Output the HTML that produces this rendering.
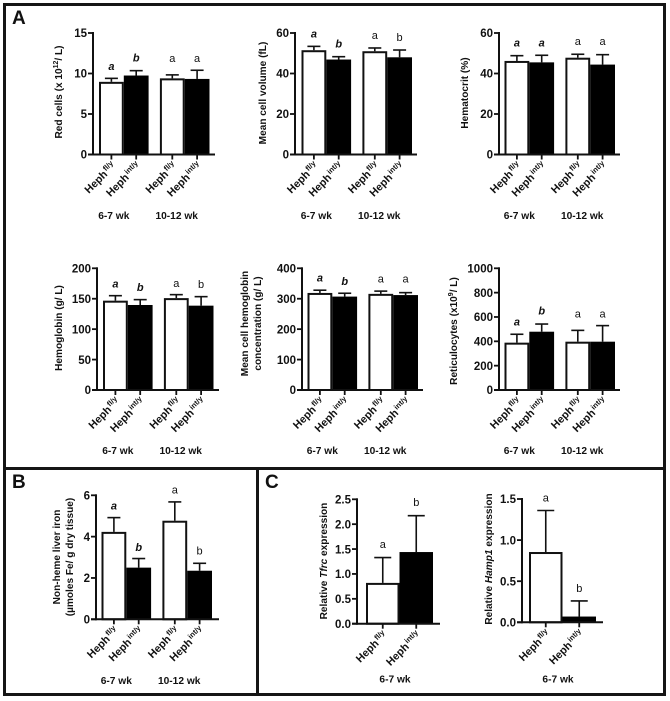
<!DOCTYPE html>
<html lang="en">
<head>
<meta charset="utf-8">
<title>Hephaestin knockout hematology bar charts</title>
<style>
html,body{margin:0;padding:0;background:#fff;}
#figure{display:block;width:670px;height:701px;font-family:"Liberation Sans",sans-serif;filter:blur(0.3px);}
text{font-family:"Liberation Sans",sans-serif;fill:#111;}
</style>
</head>
<body>
<svg id="figure" xmlns="http://www.w3.org/2000/svg" width="670" height="701" viewBox="0 0 670 701">
  <rect x="4.5" y="4.5" width="660" height="464" fill="#fff" stroke="#151515" stroke-width="3"/>
  <rect x="4.5" y="468.5" width="253" height="226" fill="#fff" stroke="#151515" stroke-width="3"/>
  <rect x="257.5" y="468.5" width="407" height="226" fill="#fff" stroke="#151515" stroke-width="3"/>
  <text x="12" y="24" font-size="19" font-weight="bold">A</text>
  <text x="12" y="488" font-size="19" font-weight="bold">B</text>
  <text x="265" y="488" font-size="19" font-weight="bold">C</text>
  <g id="charts"></g>
</svg>
<script>
// ---- categories ----
const fourGenotypes = ["fl/y", "int/y", "fl/y", "int/y"];
const twoGenotypes = ["fl/y", "int/y"];
const fourBarColors = ["white", "black", "white", "black"];
const twoBarColors = ["white", "black"];

// ---- Red cells ----
const redCellsTicks = ["0", "5", "10", "15"];
const redCellsMeans = [8.97, 9.75, 9.4, 9.33];
const redCellsErrorTops = [9.4, 10.35, 9.83, 10.4];
const redCellsLetters = ["a", "b", "a", "a"];
const redCellsLetterLevels = [10.9, 12, 11.9, 11.9];

// ---- Mean cell volume ----
const volumeTicks = ["0", "20", "40", "60"];
const volumeMeans = [51.5, 46.9, 51, 48];
const volumeErrorTops = [53.4, 48.3, 52.6, 51.6];
const volumeLetters = ["a", "b", "a", "b"];
const volumeLetterLevels = [59.7, 54.9, 59, 58];

// ---- Hematocrit ----
const hematocritTicks = ["0", "20", "40", "60"];
const hematocritMeans = [46.2, 45.5, 47.8, 44.4];
const hematocritErrorTops = [48.8, 49, 49.5, 49.3];
const hematocritLetters = ["a", "a", "a", "a"];
const hematocritLetterLevels = [55.2, 55.2, 56, 56];

// ---- Hemoglobin ----
const hemoglobinTicks = ["0", "50", "100", "150", "200"];
const hemoglobinMeans = [146.8, 139.7, 151, 138.6];
const hemoglobinErrorTops = [155, 148.5, 156.7, 153.4];
const hemoglobinLetters = ["a", "b", "a", "b"];
const hemoglobinLetterLevels = [175, 169, 176, 174];

// ---- Mean cell hemoglobin concentration ----
const concentrationTicks = ["0", "100", "200", "300", "400"];
const concentrationMeans = [319, 307, 316, 312];
const concentrationErrorTops = [328, 318, 325, 320];
const concentrationLetters = ["a", "b", "a", "a"];
const concentrationLetterLevels = [369, 359, 366, 366];

// ---- Reticulocytes ----
const reticulocyteTicks = ["0", "200", "400", "600", "800", "1000"];
const reticulocyteMeans = [389, 479, 397, 397];
const reticulocyteErrorTops = [458, 542, 490, 529];
const reticulocyteLetters = ["a", "b", "a", "a"];
const reticulocyteLetterLevels = [562, 652, 630, 630];

// ---- Liver iron ----
const liverIronTicks = ["0", "2", "4", "6"];
const liverIronMeans = [4.23, 2.5, 4.77, 2.35];
const liverIronErrorTops = [4.92, 2.94, 5.68, 2.71];
const liverIronLetters = ["a", "b", "a", "b"];
const liverIronLetterLevels = [5.5, 3.5, 6.27, 3.34];

// ---- Tfrc ----
const tfrcTicks = ["0.0", "0.5", "1.0", "1.5", "2.0", "2.5"];
const tfrcMeans = [0.82, 1.44];
const tfrcErrorTops = [1.33, 2.17];
const tfrcLetters = ["a", "b"];
const tfrcLetterLevels = [1.6, 2.45];

// ---- Hamp1 ----
const hampTicks = ["0.0", "0.5", "1.0", "1.5"];
const hampMeans = [0.855, 0.07];
const hampErrorTops = [1.36, 0.26];
const hampLetters = ["a", "b"];
const hampLetterLevels = [1.52, 0.42];

// ---- group captions ----
const fourGroupCaptions = ["6-7 wk", "10-12 wk"];
const oneGroupCaption = ["6-7 wk"];

const SVG_NS = "http://www.w3.org/2000/svg";
const root = document.getElementById("charts");

function make(parent, tag, attrs, txt) {
  const el = document.createElementNS(SVG_NS, tag);
  for (const k in attrs) el.setAttribute(k, attrs[k]);
  if (txt !== undefined) el.textContent = txt;
  parent.appendChild(el);
  return el;
}

function addSpan(parent, txt, attrs) {
  const s = document.createElementNS(SVG_NS, "tspan");
  for (const k in attrs) s.setAttribute(k, attrs[k]);
  s.textContent = txt;
  parent.appendChild(s);
  return s;
}

function drawChart(c) {
  const g = make(root, "g", {});
  
  

  const yMax = Number(c.ticks[c.ticks.length - 1]);
  const yScale = v => c.base - (v / yMax) * (c.base - c.top);
  const xLeft = i => c.axis + c.offset + i * c.barW + (i >= 2 ? c.groupGap : 0);
  const xMid = i => xLeft(i) + c.barW / 2;

  // bars and error bars
  c.means.forEach((m, i) => {
    const cx = xMid(i);
    const err = make(g, "g", {stroke: "#111", "stroke-width": 1.6});
    
    
    make(err, "line", {x1: cx, x2: cx, y1: yScale(m), y2: yScale(c.errorTops[i])});
    make(err, "line", {x1: cx - c.cap / 2, x2: cx + c.cap / 2, y1: yScale(c.errorTops[i]), y2: yScale(c.errorTops[i])});

    const isWhite = c.colors[i] === "white";
    const inset = isWhite ? 1 : 0;
    const bar = make(g, "rect", {
      x: xLeft(i) + inset,
      y: yScale(m) + inset,
      width: c.barW - inset * 2,
      height: Math.max(0, c.base - yScale(m) - inset),
      fill: isWhite ? "#fff" : "#000",
      stroke: isWhite ? "#111" : "none",
      "stroke-width": isWhite ? 2 : 0
    });
    
    

    // x tick
    const tick = make(g, "line", {x1: cx, x2: cx, y1: c.base, y2: c.base + 5, stroke: "#111", "stroke-width": 1.8});
    
    

    // genotype label
    const ax = cx + 5, ay = c.base + 12;
    const lab = make(g, "text", {
      "text-anchor": "end",
      "font-size": 10.8,
      "font-weight": "bold",
      transform: "translate(" + ax + "," + ay + ") rotate(-45)"
    });
    
    
    addSpan(lab, "Heph", {});
    addSpan(lab, c.genotypes[i], {"font-size": 7.5, dy: -4, dx: 1});

    // significance letter
    const isItalic = c.italicGroups && i < 2;
    const letter = make(g, "text", {
      x: cx,
      y: yScale(c.letterLevels[i]) + 4,
      "text-anchor": "middle",
      "font-size": 11,
      "font-weight": isItalic ? "bold" : "normal",
      "font-style": isItalic ? "italic" : "normal"
    }, c.letters[i]);
    
    
  });

  // axes
  const yAxis = make(g, "line", {x1: c.axis, x2: c.axis, y1: c.top - 1, y2: c.base + 1, stroke: "#111", "stroke-width": 2});
  
  
  const xAxis = make(g, "line", {x1: c.axis - 5, x2: c.end, y1: c.base, y2: c.base, stroke: "#111", "stroke-width": 2});
  
  

  c.ticks.forEach(t => {
    const v = Number(t);
    const tickMark = make(g, "line", {x1: c.axis - 5, x2: c.axis, y1: yScale(v), y2: yScale(v), stroke: "#111", "stroke-width": 1.8});
    
    
    const tickLabel = make(g, "text", {
      x: c.axis - 6,
      y: yScale(v) + 4.2,
      "text-anchor": "end",
      "font-size": 11.5,
      "font-weight": "bold"
    }, t);
    
    
  });

  // y title
  c.title.forEach((segments, li) => {
    const tx = c.titleX + li * 13;
    const title = make(g, "text", {
      "text-anchor": "middle",
      "font-size": 10.1,
      "font-weight": "bold",
      transform: "translate(" + tx + "," + c.titleY + ") rotate(-90)"
    });
    
    
    segments.forEach(seg => {
      if (seg.sup) {
        addSpan(title, seg.sup, {"font-size": 7, dy: -4});
        addSpan(title, "\u200b", {dy: 4});
      } else if (seg.it) {
        addSpan(title, seg.it, {"font-style": "italic"});
      } else {
        addSpan(title, seg.t, {});
      }
    });
  });

  // group captions
  c.captions.forEach((cap, i) => {
    const from = i * 2;
    const to = Math.min(from + 1, c.means.length - 1);
    const mid = (xMid(from) + xMid(to)) / 2 + c.captionShift[i];
    const caption = make(g, "text", {
      x: mid,
      y: c.base + c.captionDy,
      "text-anchor": "middle",
      "font-size": 10.2,
      "font-weight": "bold"
    }, cap);
    
    
  });
}

const common4 = {genotypes: fourGenotypes, colors: fourBarColors, barW: 24.8, groupGap: 11.3, cap: 13, captions: fourGroupCaptions, captionShift: [-10, -8], italicGroups: true};
const common2 = {genotypes: twoGenotypes, colors: twoBarColors, barW: 33.5, groupGap: 0, cap: 17, captions: oneGroupCaption, captionShift: [-4.5], italicGroups: false};

[
  Object.assign({}, common4, {id: "red-cells", ticks: redCellsTicks, means: redCellsMeans, errorTops: redCellsErrorTops, letters: redCellsLetters, letterLevels: redCellsLetterLevels,
    axis: 93, offset: 6, top: 33, base: 154.5, end: 215, captionDy: 64.5, titleX: 62, titleY: 92,
    title: [[{t: "Red cells (x 10"}, {sup: "12"}, {t: "/ L)"}]]}),
  Object.assign({}, common4, {id: "cell-volume", ticks: volumeTicks, means: volumeMeans, errorTops: volumeErrorTops, letters: volumeLetters, letterLevels: volumeLetterLevels,
    axis: 295, offset: 6.5, top: 33, base: 154.5, end: 417, captionDy: 64.5, titleX: 266, titleY: 93,
    title: [[{t: "Mean cell volume (fL)"}]]}),
  Object.assign({}, common4, {id: "hematocrit", ticks: hematocritTicks, means: hematocritMeans, errorTops: hematocritErrorTops, letters: hematocritLetters, letterLevels: hematocritLetterLevels,
    axis: 499, offset: 5.5, top: 33, base: 154.5, end: 620, captionDy: 64.5, titleX: 468, titleY: 93,
    title: [[{t: "Hematocrit (%)"}]]}),
  Object.assign({}, common4, {id: "hemoglobin", ticks: hemoglobinTicks, means: hemoglobinMeans, errorTops: hemoglobinErrorTops, letters: hemoglobinLetters, letterLevels: hemoglobinLetterLevels,
    axis: 97, offset: 6, top: 268.3, base: 390, end: 219, captionDy: 64, titleX: 62, titleY: 328,
    title: [[{t: "Hemoglobin (g/ L)"}]]}),
  Object.assign({}, common4, {id: "hemoglobin-concentration", ticks: concentrationTicks, means: concentrationMeans, errorTops: concentrationErrorTops, letters: concentrationLetters, letterLevels: concentrationLetterLevels,
    axis: 302, offset: 5.5, top: 268.3, base: 390, end: 423, captionDy: 64, titleX: 248, titleY: 323.5,
    title: [[{t: "Mean cell hemoglobin"}], [{t: "concentration (g/ L)"}]]}),
  Object.assign({}, common4, {id: "reticulocytes", ticks: reticulocyteTicks, means: reticulocyteMeans, errorTops: reticulocyteErrorTops, letters: reticulocyteLetters, letterLevels: reticulocyteLetterLevels,
    axis: 499, offset: 5.5, top: 268.3, base: 390, end: 620, captionDy: 64, titleX: 457, titleY: 331,
    title: [[{t: "Reticulocytes (x10"}, {sup: "9"}, {t: "/ L)"}]]}),
  Object.assign({}, common4, {id: "liver-iron", ticks: liverIronTicks, means: liverIronMeans, errorTops: liverIronErrorTops, letters: liverIronLetters, letterLevels: liverIronLetterLevels,
    axis: 96, offset: 5.5, top: 495.3, base: 619.3, end: 219, captionDy: 64.5, titleX: 60, titleY: 557,
    title: [[{t: "Non-heme liver iron"}], [{t: "(\u00b5moles Fe/ g dry tissue)"}]]}),
  Object.assign({}, common2, {id: "tfrc", ticks: tfrcTicks, means: tfrcMeans, errorTops: tfrcErrorTops, letters: tfrcLetters, letterLevels: tfrcLetterLevels,
    axis: 357, offset: 9, top: 499.3, base: 623.7, end: 440, captionDy: 59, titleX: 327, titleY: 561,
    title: [[{t: "Relative "}, {it: "Tfrc"}, {t: " expression"}]]}),
  Object.assign({}, common2, {id: "hamp1", ticks: hampTicks, means: hampMeans, errorTops: hampErrorTops, letters: hampLetters, letterLevels: hampLetterLevels,
    axis: 522, offset: 7, top: 499, base: 622.3, end: 603, captionDy: 60, titleX: 492, titleY: 559,
    title: [[{t: "Relative "}, {it: "Hamp1"}, {t: " expression"}]]})
].forEach(drawChart);
</script>
</body>
</html>
